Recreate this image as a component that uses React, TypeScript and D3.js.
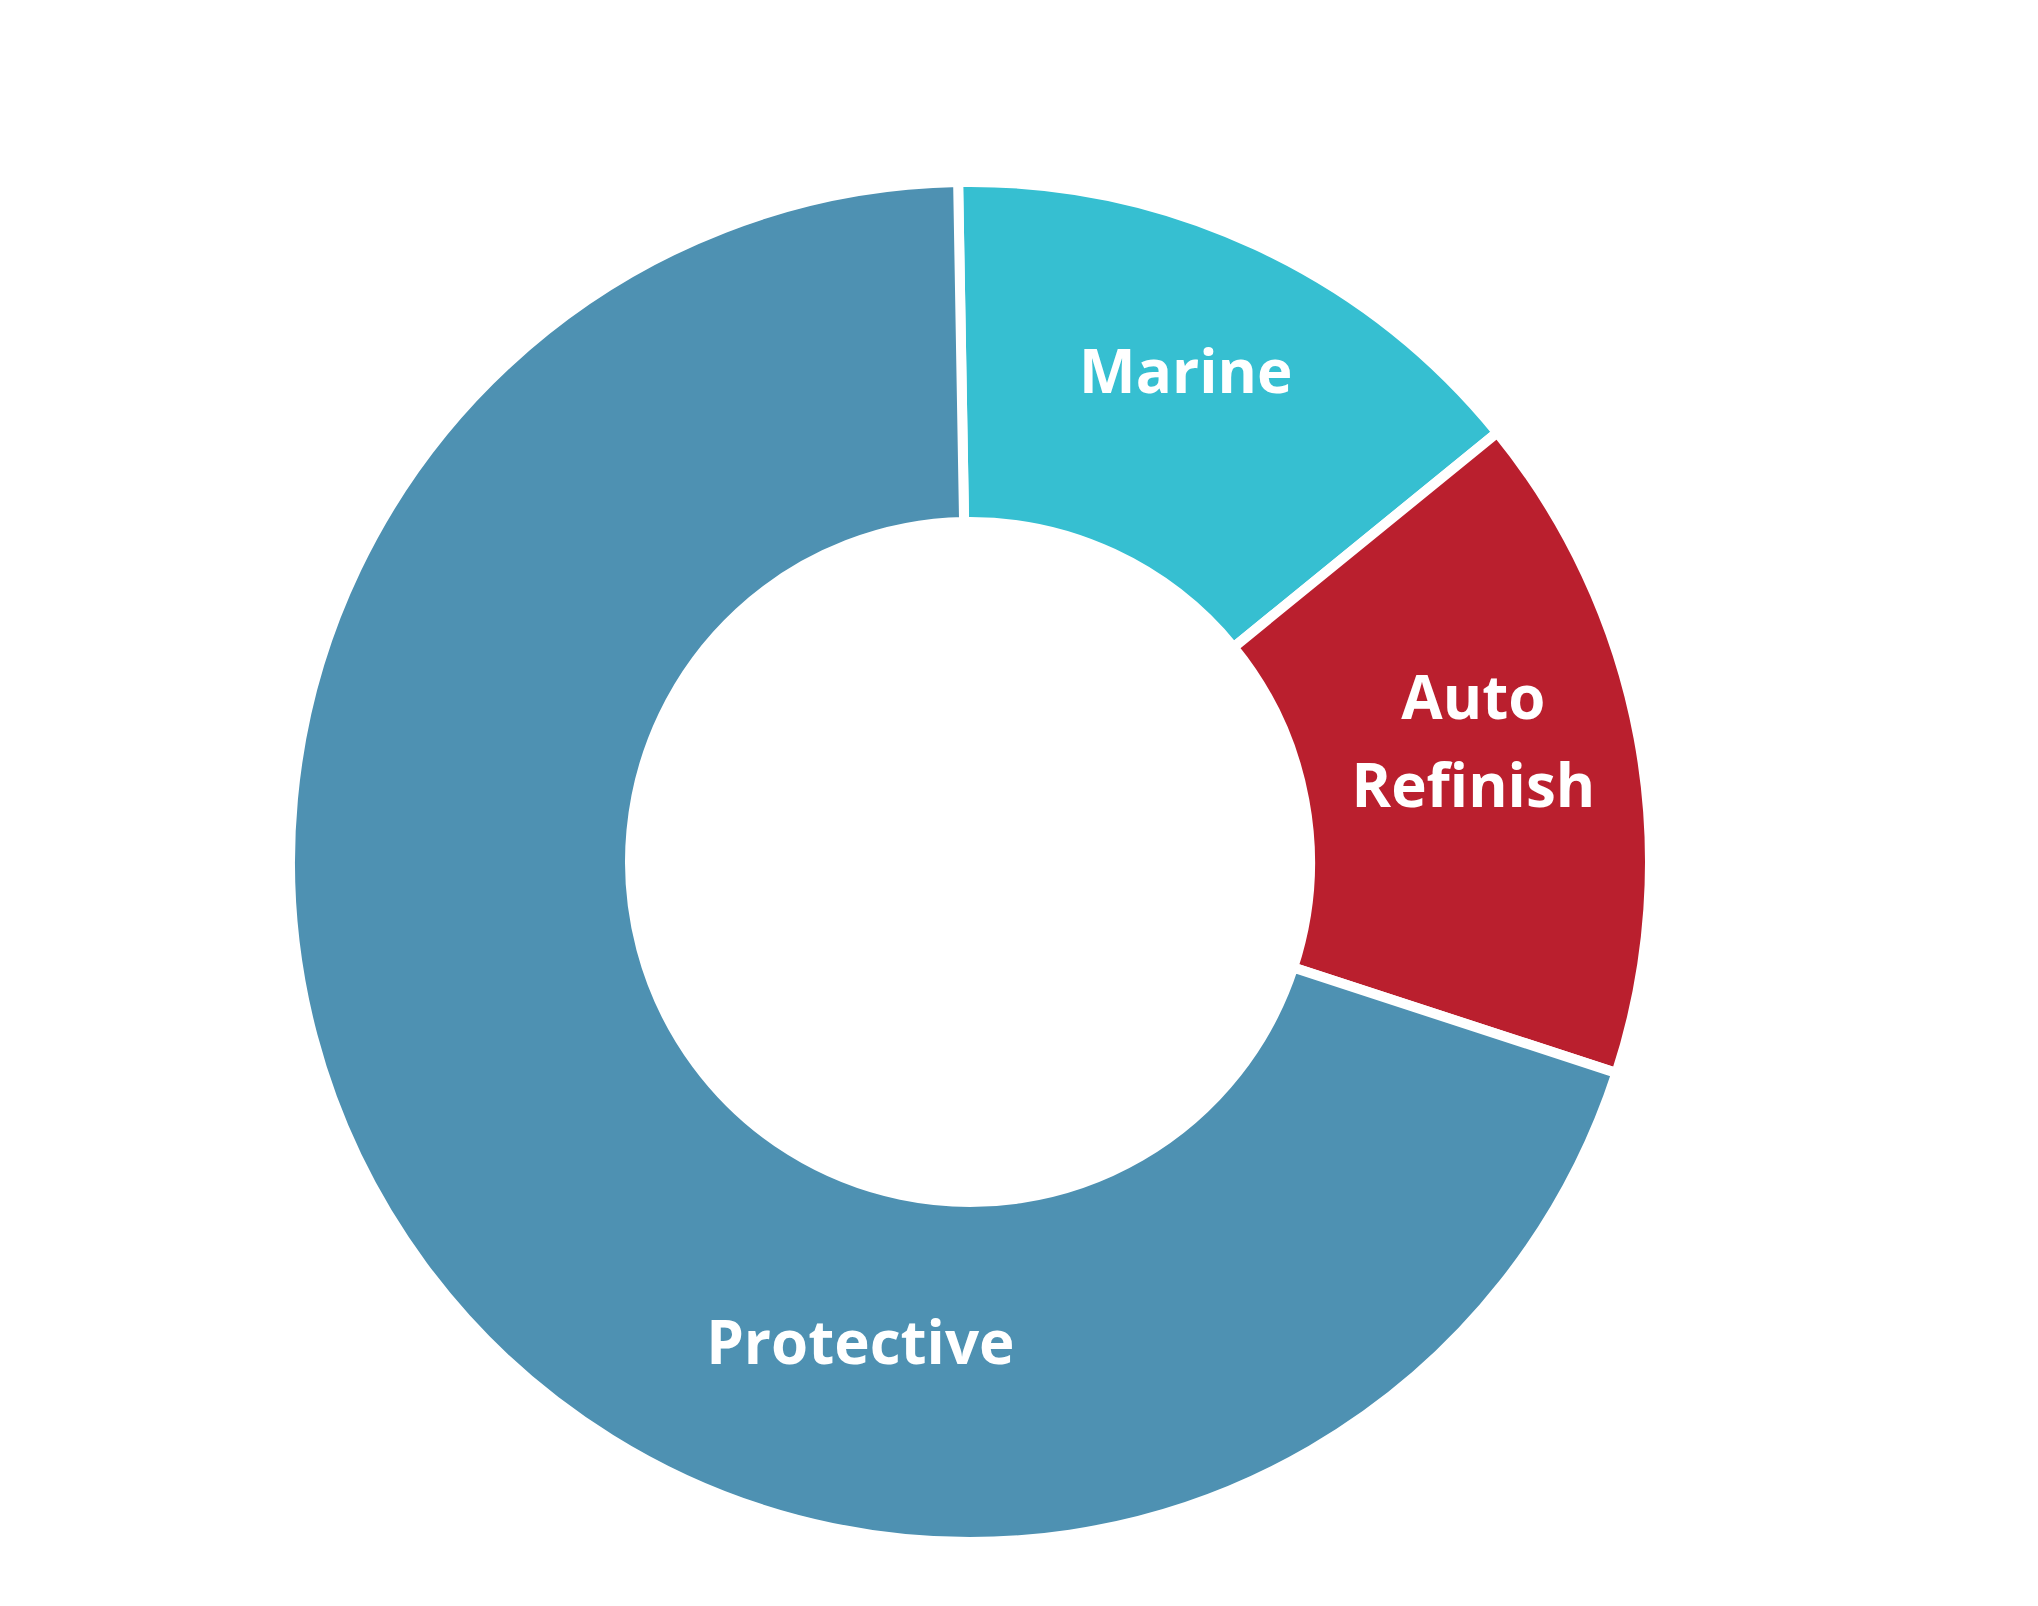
import React from "react";
import * as d3 from "d3";

const categories = ["Marine", "Auto Refinish", "Protective"];
const values = [14.4, 15.9, 69.7];
const colors = ["#36BFD1", "#BA1F2E", "#4E91B2"];
const labelLines = [["Marine"], ["Auto", "Refinish"], ["Protective"]];

const WIDTH = 2038;
const HEIGHT = 1606;
const CX = 970;
const CY = 862;
const OUTER = 680;
const INNER = 340;
const START_DEG = -1;
const LABEL_R = 512;
const LINE_H = 88;
// Protective label is placed off its mid-angle in the original chart
const labelPlacementOverride: Record<string, { deg: number; r: number }> = {
  Protective: { deg: 192.2, r: 519 },
};

export default function App() {
  const data = categories.map((c, i) => ({ name: c, value: values[i], color: colors[i], lines: labelLines[i] }));
  const start = (START_DEG * Math.PI) / 180;
  const pie = d3
    .pie<any>()
    .sort(null)
    .value((d) => d.value)
    .startAngle(start)
    .endAngle(start + 2 * Math.PI);
  const arcs = pie(data);
  const arc = d3.arc<any>().innerRadius(INNER).outerRadius(OUTER);

  return (
    <div style={{ position: "fixed", left: 0, top: 0 }}>
      <svg width={WIDTH} height={HEIGHT} style={{ display: "block", background: "#fff" }}>
        <g transform={`translate(${CX},${CY})`}>
          {arcs.map((a, i) => (
            <path key={i} d={arc(a) || ""} fill={a.data.color} stroke="#fff" strokeWidth={10} />
          ))}
          {arcs.map((a, i) => {
            const ov = labelPlacementOverride[a.data.name];
            const ang = ov ? (ov.deg * Math.PI) / 180 : (a.startAngle + a.endAngle) / 2;
            const r = ov ? ov.r : LABEL_R;
            const x = r * Math.sin(ang);
            const y = -r * Math.cos(ang) - 5;
            const n = a.data.lines.length;
            return (
              <text
                key={"t" + i}
                x={x}
                textAnchor="middle"
                fill="#fff"
                style={{ fontFamily: "'Open Sans', sans-serif", fontWeight: 700, fontSize: 60 }}
              >
                {a.data.lines.map((l: string, j: number) => (
                  <tspan key={j} x={x} y={y + (j - (n - 1) / 2) * LINE_H}>
                    {l}
                  </tspan>
                ))}
              </text>
            );
          })}
        </g>
      </svg>
    </div>
  );
}
